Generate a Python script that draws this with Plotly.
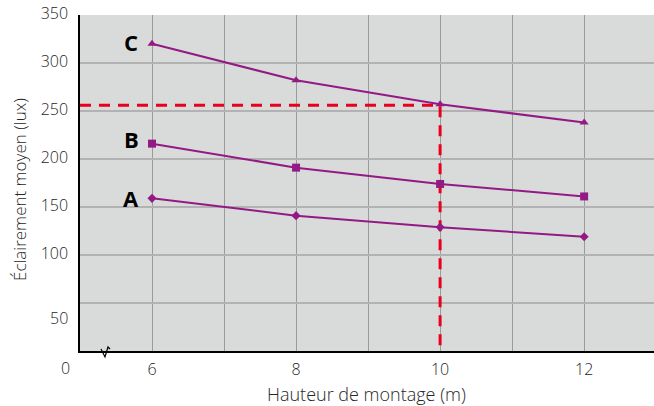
import plotly.graph_objects as go

hauteur = [6, 8, 10, 12]
serie_A = [159, 141, 129, 119]
serie_B = [216, 191, 174, 161]
serie_C = [320, 282, 257, 238]
ref_x = [5, 10, 10]
ref_y = [256, 256, 0]
x_ticks = [6, 8, 10, 12]
y_ticks = [100, 150, 200, 250, 300, 350]
y_grid = [50, 100, 150, 200, 250, 300, 350]
x_grid = [6, 7, 8, 9, 10, 11, 12]

purple = "#931A85"
red = "#E8001C"
W, H = 654, 406
L, R, T, B = 80, 0, 15, 55
pw, ph = W - L - R, H - T - B

def px(x):
    return (x - L) / pw

def py(y):
    return (H - B - y) / ph

fig = go.Figure()
fig.add_trace(go.Scatter(x=ref_x, y=ref_y, mode="lines",
                         line=dict(color=red, width=3, dash="11px,8px"),
                         hoverinfo="skip", showlegend=False))
fig.add_trace(go.Scatter(x=hauteur, y=serie_A, mode="lines+markers",
                         line=dict(color=purple, width=2),
                         marker=dict(symbol="diamond", size=7, color=purple),
                         showlegend=False, name="A"))
fig.add_trace(go.Scatter(x=hauteur, y=serie_B, mode="lines+markers",
                         line=dict(color=purple, width=2),
                         marker=dict(symbol="square", size=8, color=purple),
                         showlegend=False, name="B"))
fig.add_trace(go.Scatter(x=hauteur, y=serie_C, mode="lines+markers",
                         line=dict(color=purple, width=2),
                         marker=dict(symbol="triangle-up", size=8, color=purple),
                         showlegend=False, name="C"))

FAM = "Open Sans"
tickfont = dict(family=FAM, size=16, color="#262626", weight=300)
fig.update_xaxes(range=[5, 12.97], tickvals=x_ticks, showgrid=False,
                 showline=True, linecolor="black", linewidth=1.5,
                 ticks="", tickfont=tickfont, zeroline=False, ticklabelstandoff=3,
                 minor=dict(tickvals=x_grid, showgrid=True, gridcolor="#9a9a9a", gridwidth=1, ticks=""))
fig.update_yaxes(range=[0, 350], tickvals=y_ticks, showgrid=False,
                 showline=True, linecolor="black", linewidth=1.5,
                 ticks="", tickfont=tickfont, zeroline=False, ticklabelshift=-2,
                 ticklabelstandoff=7,
                 minor=dict(tickvals=y_grid, showgrid=True, gridcolor="#b2b2b2", gridwidth=1.5, ticks=""))

annots = []
for lab, yv in [("A", 159), ("B", 221), ("C", 322)]:
    annots.append(dict(x=5.71, y=yv, xref="x", yref="y", text="<b>%s</b>" % lab,
                       xanchor="center", yanchor="middle",
                       showarrow=False, font=dict(family=FAM, size=22, color="black")))
annots.append(dict(x=px(70), y=py(318), xref="paper", yref="paper", text="50",
                   xanchor="right", yanchor="middle", showarrow=False, font=tickfont))
annots.append(dict(x=px(65), y=py(368), xref="paper", yref="paper", text="0",
                   xanchor="center", yanchor="middle", showarrow=False, font=tickfont))
annots.append(dict(x=px(20), y=py(190), xref="paper", yref="paper", text="Éclairement moyen (lux)",
                   textangle=-90, xanchor="center", yanchor="middle", showarrow=False,
                   font=dict(family=FAM, size=17, color="#262626", weight=300)))
annots.append(dict(x=px(366), y=py(394), xref="paper", yref="paper", text="Hauteur de montage (m)",
                   xanchor="center", yanchor="middle", showarrow=False,
                   font=dict(family=FAM, size=18, color="#262626", weight=300)))

pts = [(101, 349), (105, 357), (108, 347), (110, 349)]
path = "M " + " L ".join("%f,%f" % (px(a), py(b)) for a, b in pts)
fig.add_shape(type="path", path=path, xref="paper", yref="paper",
              line=dict(color="black", width=1.2))

fig.update_layout(width=W, height=H, margin=dict(l=L, r=R, t=T, b=B),
                  plot_bgcolor="#D9DBDA", paper_bgcolor="white",
                  annotations=annots, showlegend=False)
fig.write_html("out.html", config={"displayModeBar": False},
               post_script="document.body.style.margin='0';document.body.style.overflow='hidden';document.documentElement.style.overflow='hidden';")
